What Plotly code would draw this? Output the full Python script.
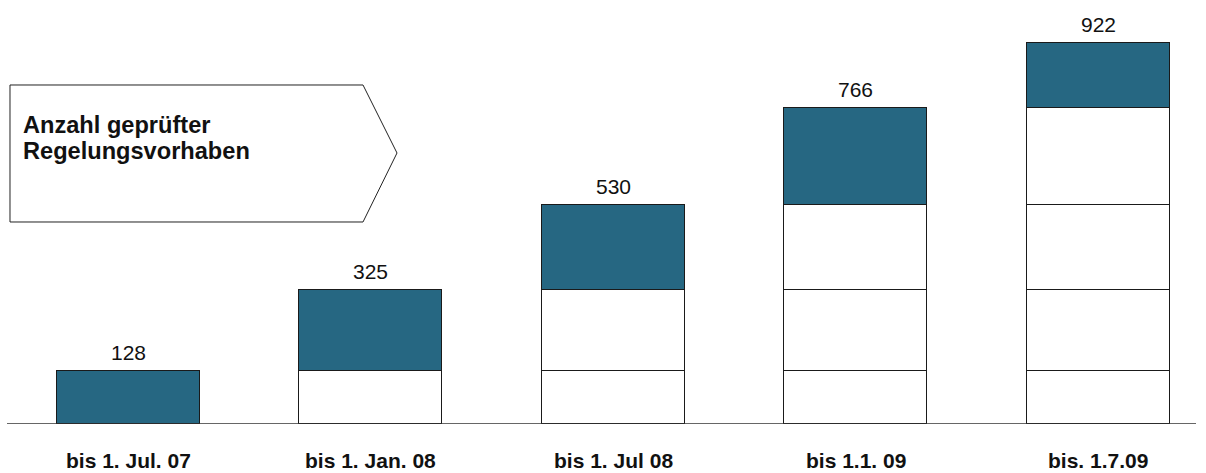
import plotly.graph_objects as go

categories = ["bis 1. Jul. 07", "bis 1. Jan. 08", "bis 1. Jul 08", "bis 1.1. 09", "bis. 1.7.09"]
totals = [128, 325, 530, 766, 922]
title_lines = ["Anzahl geprüfter", "Regelungsvorhaben"]

increments = [totals[0]] + [totals[i] - totals[i - 1] for i in range(1, len(totals))]

TEAL = "#266782"
W, H = 1206, 473
BASE_PX = 424          # baseline pixel row
PX_PER_UNIT = 0.413
CENTER0 = 128.5
STEP = 242.4
FONT = "Liberation Sans, Arial, sans-serif"

fig = go.Figure()
n = len(categories)
for k in range(n):
    ys = [increments[k] if i >= k else None for i in range(n)]
    colors = [TEAL if i == k else "white" for i in range(n)]
    fig.add_trace(go.Bar(
        x=list(range(n)), y=ys, width=0.59,
        marker=dict(color=colors, line=dict(color="#1a1a1a", width=1.3)),
        showlegend=False, hoverinfo="skip",
    ))

annotations = []
for i, t in enumerate(totals):
    annotations.append(dict(x=i, y=t, xref="x", yref="y", text=str(t), showarrow=False,
                            yanchor="bottom", yshift=5,
                            font=dict(family=FONT, size=21, color="#111")))
    annotations.append(dict(x=i, y=0, xref="paper" if False else "x", yref="paper",
                            text=f"<b>{categories[i]}</b>",
                            showarrow=False, yanchor="middle", yshift=-(460 - BASE_PX),
                            font=dict(family=FONT, size=21, color="#111")))

def px(x):
    return x / W

def py(y):
    return (BASE_PX - y) / BASE_PX

for j, line in enumerate(title_lines):
    annotations.append(dict(x=px(21), y=py(125 + 25.5 * j), xref="paper", yref="paper",
                            text=f"<b>{line}</b>", showarrow=False,
                            xanchor="left", yanchor="middle",
                            font=dict(family=FONT, size=23.6, color="#111")))

arrow_pts = [(10, 85), (363, 85), (397, 153), (363, 222), (10, 222)]
path = "M " + " L ".join(f"{px(a):.5f},{py(b):.5f}" for a, b in arrow_pts) + " Z"

shapes = [
    dict(type="path", xref="paper", yref="paper", path=path,
         line=dict(color="#222", width=1), fillcolor="white", layer="below"),
    dict(type="line", xref="paper", yref="y", x0=px(7), x1=px(1196), y0=0, y1=0,
         line=dict(color="#333", width=1.5), layer="above"),
]

fig.update_layout(
    width=W, height=H,
    margin=dict(l=0, r=0, t=0, b=H - BASE_PX),
    paper_bgcolor="white", plot_bgcolor="white",
    barmode="stack", bargap=0,
    xaxis=dict(range=[-CENTER0 / STEP, (W - CENTER0) / STEP], visible=False, fixedrange=True),
    yaxis=dict(range=[0, BASE_PX / PX_PER_UNIT], visible=False, fixedrange=True),
    annotations=annotations, shapes=shapes,
)

fig.write_html("out.html", config={"displayModeBar": False})
